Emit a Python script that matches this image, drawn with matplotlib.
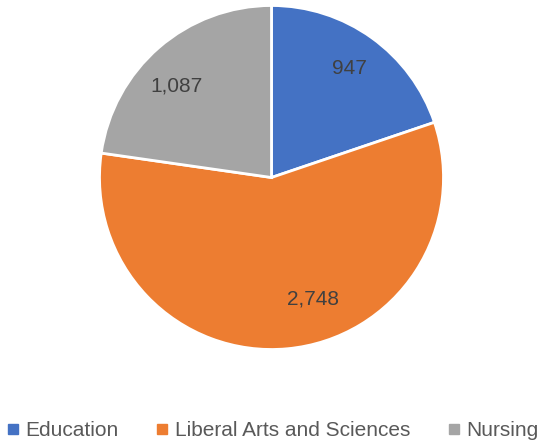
import matplotlib
matplotlib.use("Agg")
import matplotlib.pyplot as plt
from matplotlib.lines import Line2D

categories = ["Education", "Liberal Arts and Sciences", "Nursing"]
values = [947, 2748, 1087]
colors = ["#4472C4", "#ED7D31", "#A5A5A5"]

plt.rcParams["font.family"] = ["Liberation Sans", "DejaVu Sans"]


def main():
    fig = plt.figure(figsize=(5.46, 4.47), dpi=100)
    W, H = 546, 447
    cx, cy, r = 271.5, 177.5, 172
    ax = fig.add_axes([(cx - r) / W, (H - cy - r) / H, 2 * r / W, 2 * r / H])

    wedges, texts, autotexts = ax.pie(
        values, colors=colors, startangle=90, counterclock=False,
        autopct=lambda p: "{:,.0f}".format(p * sum(values) / 100),
        pctdistance=0.78, radius=1,
        wedgeprops=dict(edgecolor="white", linewidth=2),
        textprops=dict(color="#404040", fontsize=15))
    # nudge labels a bit like in the original
    x, y = autotexts[1].get_position()
    autotexts[1].set_position((x + 0.17, y + 0.07))
    x, y = autotexts[2].get_position()
    autotexts[2].set_position((x - 0.04, y - 0.06))
    ax.set_xlim(-1, 1)
    ax.set_ylim(-1, 1)
    ax.set_aspect("equal")
    ax.axis("off")

    handles = [Line2D([], [], marker="s", linestyle="", markersize=7,
                      markerfacecolor=c, markeredgecolor=c) for c in colors]
    fig.legend(handles, categories, loc="center", bbox_to_anchor=(0.5, 1 - 431 / H),
               ncol=3, frameon=False, fontsize=15, handlelength=0.5,
               handletextpad=0.35, columnspacing=1.85, labelcolor="#595959")

    fig.savefig("out.png", dpi=100)


if __name__ == "__main__":
    main()
